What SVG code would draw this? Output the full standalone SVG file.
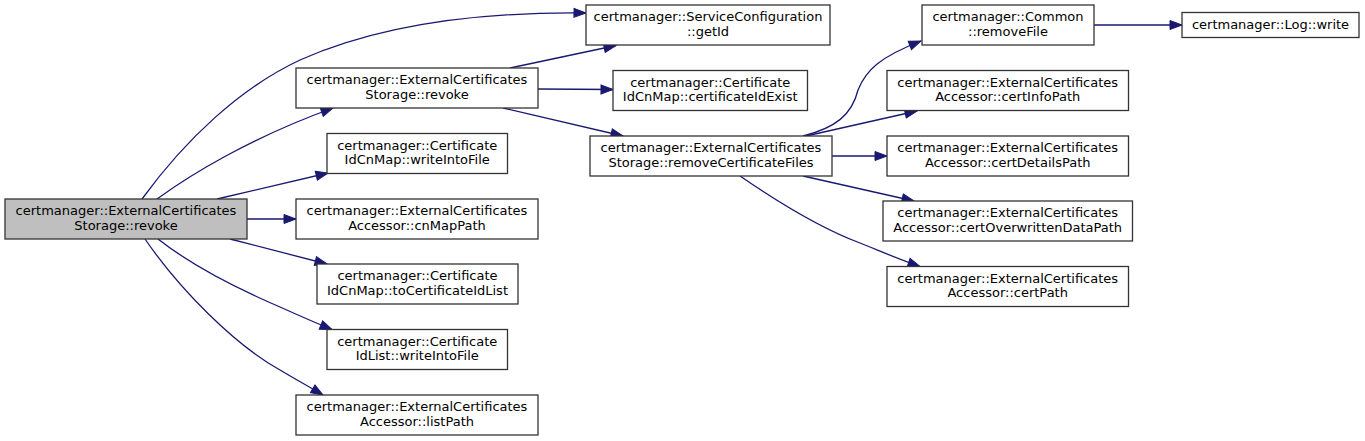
<svg xmlns="http://www.w3.org/2000/svg" width="1365" height="441" viewBox="0 0 1365 441">
<style>
.node rect{fill:#ffffff;stroke:#333333;stroke-width:1.3}
.node.root rect{fill:#bfbfbf}
.node text{font-family:"DejaVu Sans","Liberation Sans",sans-serif;font-size:13px;fill:#000000;text-anchor:middle}
.edges path{fill:none;stroke:#191970;stroke-width:1.3;marker-end:url(#arr)}
</style>
<defs>
<marker id="arr" markerWidth="14" markerHeight="11" refX="12" refY="4.5" orient="auto" markerUnits="userSpaceOnUse" overflow="visible">
<path d="M0,0 L12,4.5 L0,9 z" fill="#191970" stroke="#191970" stroke-width="1"/>
</marker>
</defs>
<rect width="1365" height="441" fill="#ffffff"/>
<g class="edges">
<path d="M142,199 C185,140 240,88 300,60 C390,20 500,12 586,13"/>
<path d="M157,199 C190,175 250,138 333,108"/>
<path d="M217,199 L328,173"/>
<path d="M247,219 L296,219"/>
<path d="M230,239 L327,264"/>
<path d="M158,239 C195,268 245,292 280,307 C300,316 316,323 332,329.5"/>
<path d="M145,239 C180,290 235,345 280,370 C295,379 308,386 323,395"/>
<path d="M510,68 L616,45.5"/>
<path d="M538,89 L613,89.5"/>
<path d="M503,108 L623,136"/>
<path d="M803,136 C835,128 852,115 858,90 C866,70 880,57 921,41"/>
<path d="M806,136 L917,111"/>
<path d="M832,156 L887,156"/>
<path d="M803,176 L914,201"/>
<path d="M740,176 C775,200 820,228 860,243 C880,251 898,259 920,266.5"/>
<path d="M1094,25 L1182,25"/>
</g>
<g id="n_root" class="node root"><rect x="5" y="199" width="242" height="40"/><text x="126" y="215">certmanager::ExternalCertificates</text><text x="126" y="229.7">Storage::revoke</text></g>
<g id="n_revoke" class="node"><rect x="296" y="68" width="242" height="40"/><text x="417" y="84">certmanager::ExternalCertificates</text><text x="417" y="98.7">Storage::revoke</text></g>
<g id="n_getId" class="node"><rect x="586" y="5" width="244" height="40"/><text x="708" y="21">certmanager::ServiceConfiguration</text><text x="708" y="35.7">::getId</text></g>
<g id="n_idExist" class="node"><rect x="613" y="70.5" width="194.5" height="40"/><text x="710.2" y="86.5">certmanager::Certificate</text><text x="710.2" y="101.2">IdCnMap::certificateIdExist</text></g>
<g id="n_cnWrite" class="node"><rect x="327" y="133.5" width="180.5" height="40"/><text x="417.2" y="149.5">certmanager::Certificate</text><text x="417.2" y="164.2">IdCnMap::writeIntoFile</text></g>
<g id="n_cnMapPath" class="node"><rect x="296" y="199" width="242" height="40"/><text x="417" y="215">certmanager::ExternalCertificates</text><text x="417" y="229.7">Accessor::cnMapPath</text></g>
<g id="n_toList" class="node"><rect x="317" y="264" width="201" height="40"/><text x="417.5" y="280">certmanager::Certificate</text><text x="417.5" y="294.7">IdCnMap::toCertificateIdList</text></g>
<g id="n_listWrite" class="node"><rect x="327" y="329.5" width="180.5" height="40"/><text x="417.2" y="345.5">certmanager::Certificate</text><text x="417.2" y="360.2">IdList::writeIntoFile</text></g>
<g id="n_listPath" class="node"><rect x="296" y="395" width="242" height="40"/><text x="417" y="411">certmanager::ExternalCertificates</text><text x="417" y="425.7">Accessor::listPath</text></g>
<g id="n_remove" class="node"><rect x="590" y="136" width="242" height="40"/><text x="711" y="152">certmanager::ExternalCertificates</text><text x="711" y="166.7">Storage::removeCertificateFiles</text></g>
<g id="n_removeFile" class="node"><rect x="922" y="5" width="172" height="40"/><text x="1008" y="21">certmanager::Common</text><text x="1008" y="35.7">::removeFile</text></g>
<g id="n_logWrite" class="node"><rect x="1182" y="12.5" width="177" height="25"/><text x="1270.5" y="29">certmanager::Log::write</text></g>
<g id="n_certInfo" class="node"><rect x="887" y="70.5" width="241.5" height="40"/><text x="1007.7" y="86.5">certmanager::ExternalCertificates</text><text x="1007.7" y="101.2">Accessor::certInfoPath</text></g>
<g id="n_certDetails" class="node"><rect x="887" y="136" width="241.5" height="40"/><text x="1007.7" y="152">certmanager::ExternalCertificates</text><text x="1007.7" y="166.7">Accessor::certDetailsPath</text></g>
<g id="n_certOver" class="node"><rect x="883" y="201" width="249.5" height="40"/><text x="1007.7" y="217">certmanager::ExternalCertificates</text><text x="1007.7" y="231.7">Accessor::certOverwrittenDataPath</text></g>
<g id="n_certPath" class="node"><rect x="887" y="266.5" width="241.5" height="40"/><text x="1007.7" y="282.5">certmanager::ExternalCertificates</text><text x="1007.7" y="297.2">Accessor::certPath</text></g>
</svg>
